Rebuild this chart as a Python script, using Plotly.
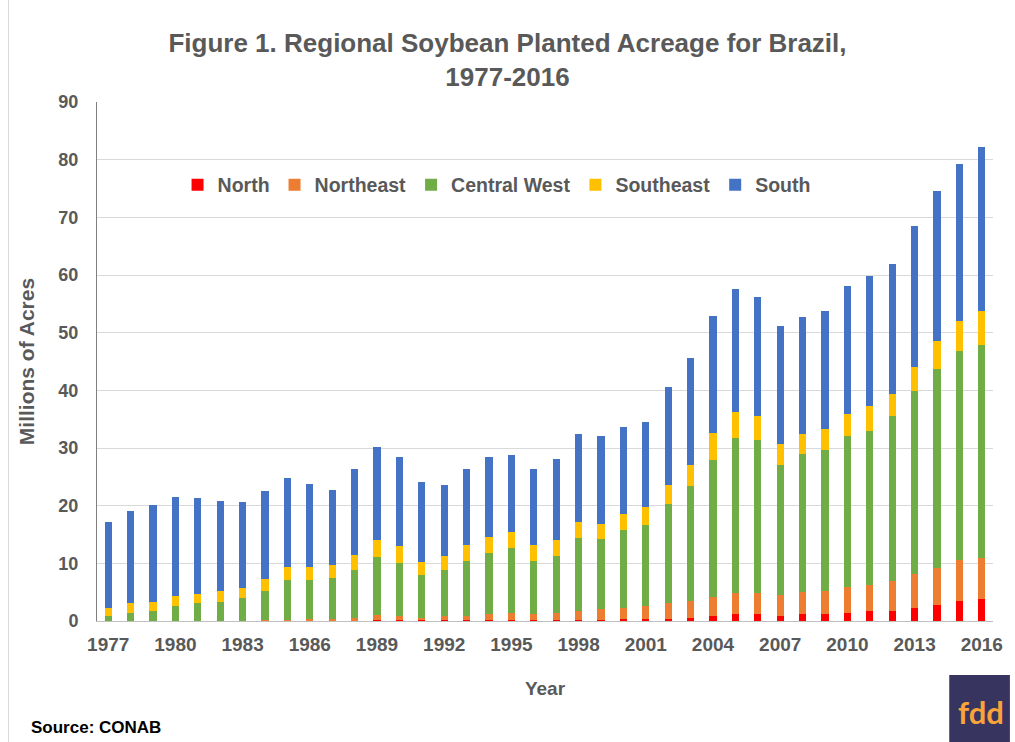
import plotly.graph_objects as go

# Brazilian soybean planted area by region, million acres
years = list(range(1977, 2017))

north = [0.0, 0.0, 0.0, 0.0, 0.0, 0.0, 0.0, 0.0, 0.05, 0.05,
         0.05, 0.05, 0.15, 0.15, 0.1, 0.1, 0.1, 0.1, 0.1, 0.1,
         0.1, 0.2, 0.2, 0.3, 0.3, 0.4, 0.5, 0.9, 1.3, 1.3,
         0.9, 1.3, 1.3, 1.4, 1.7, 1.7, 2.2, 2.8, 3.5, 3.8]
northeast = [0.05, 0.05, 0.05, 0.05, 0.05, 0.05, 0.05, 0.1, 0.2, 0.3,
             0.35, 0.55, 0.9, 0.8, 0.5, 0.8, 0.8, 1.1, 1.3, 1.1,
             1.3, 1.6, 1.8, 1.9, 2.3, 2.7, 3.0, 3.2, 3.5, 3.5,
             3.6, 3.8, 3.9, 4.5, 4.6, 5.2, 6.0, 6.4, 7.0, 7.1]
central_west = [0.85, 1.4, 1.65, 2.6, 3.0, 3.3, 3.95, 5.1, 6.9, 6.8,
                7.05, 8.3, 10.0, 9.1, 7.3, 8.0, 9.5, 10.6, 11.3, 9.2,
                9.9, 12.6, 12.2, 13.6, 14.1, 17.2, 19.9, 23.9, 26.85, 26.6,
                22.6, 23.9, 24.5, 26.15, 26.7, 28.6, 31.6, 34.5, 36.3, 36.9]
southeast = [1.3, 1.6, 1.6, 1.7, 1.7, 1.8, 1.8, 2.0, 2.2, 2.2,
             2.2, 2.6, 3.0, 2.9, 2.3, 2.4, 2.7, 2.8, 2.8, 2.7,
             2.7, 2.7, 2.6, 2.8, 3.0, 3.3, 3.7, 4.65, 4.65, 4.2,
             3.6, 3.4, 3.6, 3.8, 4.2, 3.9, 4.3, 4.85, 5.2, 5.9]
south = [14.9, 16.0, 16.8, 17.2, 16.6, 15.6, 14.9, 15.4, 15.4, 14.4,
         13.0, 14.9, 16.1, 15.5, 13.9, 12.3, 13.3, 13.8, 13.3, 13.2,
         14.1, 15.3, 15.3, 15.1, 14.8, 16.9, 18.5, 20.2, 21.2, 20.6,
         20.4, 20.3, 20.4, 22.2, 22.6, 22.5, 24.4, 26.0, 27.3, 28.5]

series = [
    ("North", north, "#FF0000"),
    ("Northeast", northeast, "#ED7D31"),
    ("Central West", central_west, "#70AD47"),
    ("Southeast", southeast, "#FFC000"),
    ("South", south, "#4472C4"),
]

grey = "#595959"
font_family = "Liberation Sans, Arial, sans-serif"

# plot area in pixels: left 97, right 998, top 102, bottom 621
W, H = 1015, 742
L, R, T, B = 97, 17, 102, 121
pw, ph = W - L - R, H - T - B


def px(x):
    return (x - L) / pw


def py(y):
    return (H - B - y) / ph


fig = go.Figure()
for name, vals, colour in series:
    fig.add_trace(go.Bar(x=years, y=vals, name=f"<b>{name}</b>",
                         marker=dict(color=colour, line=dict(width=0))))

fig.update_layout(
    barmode="stack",
    bargap=0.68,
    width=W,
    height=H,
    plot_bgcolor="white",
    paper_bgcolor="white",
    font=dict(family=font_family, color=grey),
    margin=dict(l=L, r=R, t=T, b=B),
    title=dict(
        text="<b>Figure 1. Regional Soybean Planted Acreage for Brazil,<br>1977-2016</b>",
        x=0.5, xanchor="center", y=1 - 52 / H, yanchor="top",
        font=dict(size=26, color=grey, family=font_family),
    ),
    xaxis=dict(
        range=[1976.5, 2016.5],
        tickmode="array",
        tickvals=years[::3],
        ticktext=[f"<b>{y}</b>" for y in years[::3]],
        tickfont=dict(size=19, color=grey),
        showgrid=False,
        showline=True, linecolor="#BFBFBF", linewidth=1,
        ticks="",
        ticklabelstandoff=6,
        title=dict(text="<b>Year</b>", font=dict(size=19, color=grey), standoff=27),
    ),
    yaxis=dict(
        range=[0, 90],
        tickmode="array",
        tickvals=list(range(0, 91, 10)),
        ticktext=[f"<b>{v}</b>" for v in range(0, 91, 10)],
        tickfont=dict(size=18, color=grey),
        showgrid=True, gridcolor="#D9D9D9", gridwidth=1,
        showline=True, linecolor="#7F7F7F", linewidth=1,
        zeroline=False,
        ticks="",
        ticklabelstandoff=14,
        title=dict(text="<b>Millions of Acres</b>", font=dict(size=21, color=grey), standoff=18),
    ),
    legend=dict(
        orientation="h",
        x=px(178), xanchor="left",
        y=py(185), yanchor="middle",
        font=dict(size=19.5, color=grey),
        bgcolor="rgba(0,0,0,0)",
        traceorder="normal",
        itemwidth=30,
    ),
    showlegend=True,
)

# source note
fig.add_annotation(
    text="<b>Source: CONAB</b>", xref="paper", yref="paper",
    x=px(29), y=py(728), xanchor="left", yanchor="middle",
    showarrow=False, font=dict(size=17, color="black"),
)
# thin left border of the chart area
fig.add_shape(
    type="line", xref="paper", yref="paper",
    x0=px(8), x1=px(8), y0=py(742), y1=py(0),
    line=dict(color="#D9D9D9", width=1),
)
# fdd logo box
fig.add_shape(
    type="rect", xref="paper", yref="paper",
    x0=px(954), x1=px(1015), y0=py(742), y1=py(675),
    fillcolor="#37355F", line=dict(width=0), layer="above",
)
fig.add_annotation(
    text="<b>fdd</b>", xref="paper", yref="paper",
    x=px(961), y=py(712), xanchor="left", yanchor="middle", showarrow=False,
    font=dict(size=31, color="#F9A33A", family="Lato, Liberation Sans, sans-serif"),
)

# drop the default page margin so the 1015x742 figure fills the window exactly
fig.write_html("out.html", config={"displayModeBar": False},
               post_script="document.body.style.margin='0';")
